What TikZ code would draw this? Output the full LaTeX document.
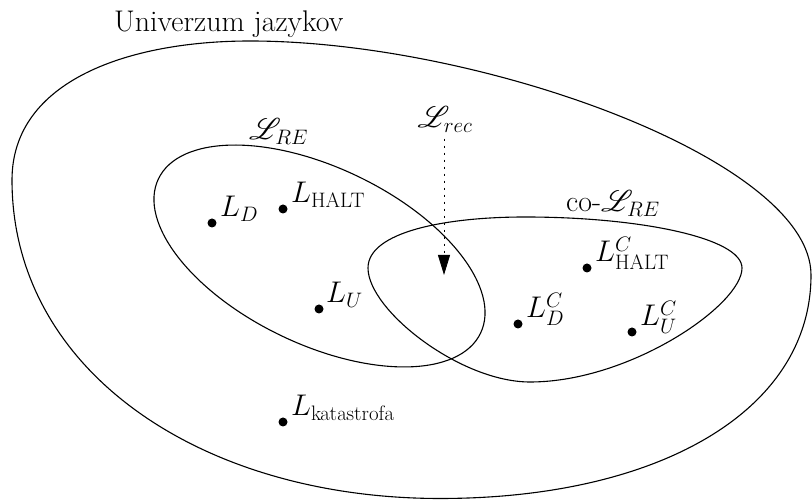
\RequirePackage{fix-cm}
\documentclass[tikz,border=0pt]{standalone}
\usepackage{amsmath,mathrsfs}
\DeclareFontFamily{U}{rsfs}{\skewchar\font127}
\DeclareFontShape{U}{rsfs}{m}{n}{<-6>rsfs5<6-8>rsfs7<8->rsfs10}{}
\usetikzlibrary{arrows.meta}

\tikzset{
  jazyk/.style={circle,fill=black,inner sep=0pt,minimum size=9bp},
  popis/.style={anchor=base west,inner sep=0pt,font=\fontsize{30}{36}\selectfont},
  mnozina/.style={black,line width=1.1bp},
}

\begin{document}
\begin{tikzpicture}[x=1bp,y=1bp]
\path[use as bounding box] (0,0) rectangle (812,500);
% univerzum
\draw[mnozina] (250,459) .. controls (480,459) and (811,340) .. (811,225)
  .. controls (811,90) and (660,1.5) .. (440,1.5)
  .. controls (200,1.5) and (12,130) .. (12,320)
  .. controls (12,420) and (130,459) .. cycle;
\node[popis] (univ) at (114,468) {Univerzum jazykov};
% RE a co-RE
\coordinate (restred) at (319.5,244);
\draw[mnozina,rotate around={-25.6:(restred)}] (restred) ellipse [x radius=178.6,y radius=88.4];
\draw[mnozina] (368,232) .. controls (368,268) and (445,283) .. (525,283)
  .. controls (640,283) and (742,262) .. (742,232)
  .. controls (742,195) and (630,118) .. (530,118)
  .. controls (460,118) and (368,190) .. cycle;
\node[popis] (re) at (249,360) {$\mathscr{L}_{RE}$};
\node[popis] (core) at (566,288) {co-$\mathscr{L}_{RE}$};
% rekurzivne
\node[popis,anchor=base] (rec) at (445,372) {$\mathscr{L}_{rec}$};
\coordinate (rechrot) at (444,225);
\draw[line width=0.9bp,dash pattern=on 2.5bp off 4.5bp,-{Triangle[length=20bp,width=12bp]}] ([yshift=-6bp]rec.south -| rechrot) -- (rechrot);
% jazyky
\node[jazyk] (ld) at (212,277) {};
\node[jazyk] (lhalt) at (283,291) {};
\node[jazyk] (lu) at (319,191) {};
\node[jazyk] (lkat) at (283,78) {};
\node[jazyk] (ldc) at (518,176) {};
\node[jazyk] (lhaltc) at (587,232) {};
\node[jazyk] (luc) at (632,168) {};
\node[popis] at ([shift={(8,6)}]ld) {$L_D$};
\node[popis] at ([shift={(8,6)}]lhalt) {$L_{\mathrm{HALT}}$};
\node[popis] at ([shift={(7,6)}]lu) {$L_U$};
\node[popis] at ([shift={(8,6)}]lkat) {$L_{\mathrm{katastrofa}}$};
\node[popis] at ([shift={(8,6)}]ldc) {$L_D^C$};
\node[popis] at ([shift={(8,6)}]lhaltc) {$L_{\mathrm{HALT}}^C$};
\node[popis] at ([shift={(8,6)}]luc) {$L_U^C$};
\end{tikzpicture}
\end{document}
